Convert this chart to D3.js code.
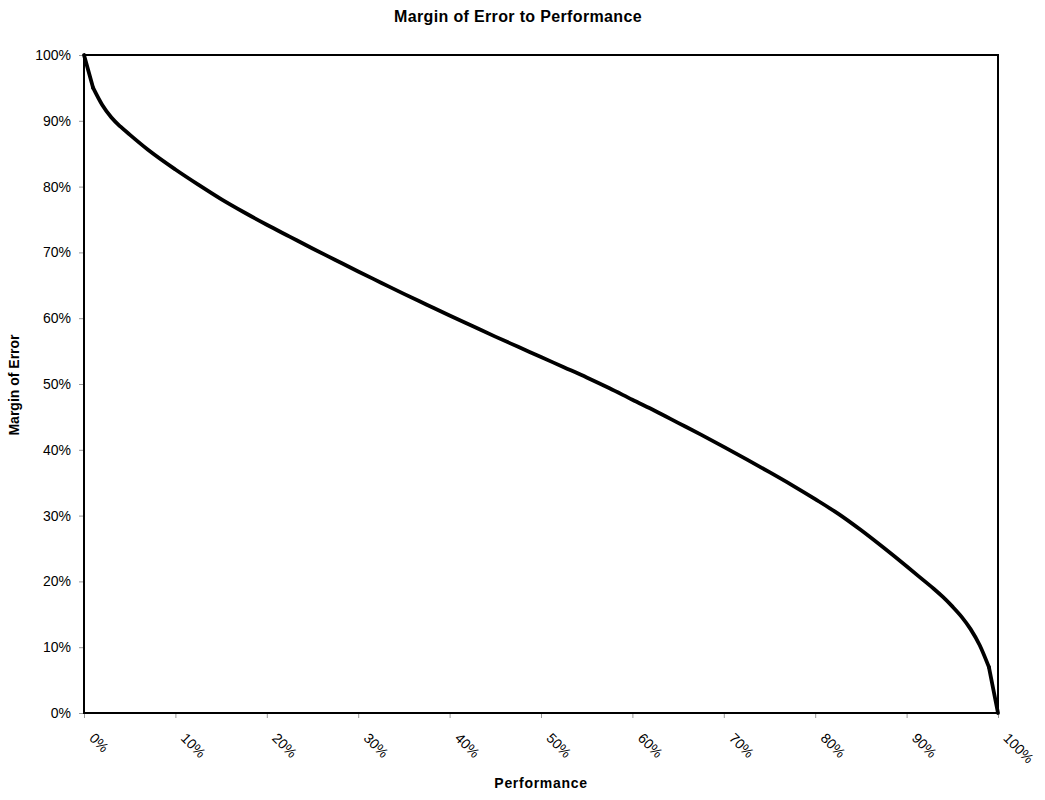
<!DOCTYPE html>
<html>
<head>
<meta charset="utf-8">
<script src="https://cdn.jsdelivr.net/npm/d3@7"></script>
<style>
  html, body { margin: 0; padding: 0; background: #fff; }
  svg { display: block; font-family: "Liberation Sans", Arial, sans-serif; }
</style>
</head>
<body>
<svg id="chart" width="1045" height="800"></svg>
<script>
// Performance (%) and Margin of Error (%)
const performance = [0, 1, 2, 3, 4, 5, 7, 10, 12.5, 15, 17.5, 20, 22.5, 25, 27.5, 30, 32.5, 35, 37.5, 40, 42.5, 45, 47.5, 50, 52.5, 55, 57.5, 60, 62.5, 65, 67.5, 70, 72.5, 75, 77.5, 80, 82.5, 85, 87.5, 90, 92, 93, 94, 95, 96, 97, 98, 99, 100];
const marginOfError = [100, 95.0, 92.4, 90.5, 89.1, 87.9, 85.6, 82.6, 80.3, 78.1, 76.1, 74.2, 72.4, 70.6, 68.85, 67.1, 65.4, 63.7, 62.05, 60.4, 58.8, 57.2, 55.65, 54.1, 52.55, 51.0, 49.35, 47.6, 45.9, 44.1, 42.3, 40.45, 38.55, 36.6, 34.6, 32.5, 30.3, 27.8, 25.1, 22.3, 20.0, 18.85, 17.6, 16.2, 14.65, 12.75, 10.3, 7.0, 0];
const xTicks = [0, 10, 20, 30, 40, 50, 60, 70, 80, 90, 100];
const yTicks = [0, 10, 20, 30, 40, 50, 60, 70, 80, 90, 100];
const titleText = "Margin of Error to Performance";
const xTitle = "Performance";
const yTitle = "Margin of Error";

const svg = d3.select("#chart");
const L = 84, R = 998, T = 55, B = 713;

const x = d3.scaleLinear().domain([0, 100]).range([L, R]);
const y = d3.scaleLinear().domain([0, 100]).range([B, T]);
const fmt = d => d + "%";

// Y axis
const yAxis = svg.append("g").attr("transform", `translate(${L},0)`)
  .call(d3.axisLeft(y).tickValues(yTicks).tickFormat(fmt).tickSize(5).tickPadding(8));
yAxis.select(".domain").remove();
yAxis.selectAll(".tick line").attr("stroke", "#999");
yAxis.selectAll(".tick text").attr("font-size", 14).attr("fill", "#000")
  .attr("font-family", "Liberation Sans, Arial, sans-serif");

// X axis
const xAxis = svg.append("g").attr("transform", `translate(0,${B})`)
  .call(d3.axisBottom(x).tickValues(xTicks).tickFormat(fmt).tickSize(5));
xAxis.select(".domain").remove();
xAxis.selectAll(".tick line").attr("stroke", "#999");
xAxis.selectAll(".tick text")
  .attr("font-size", 14).attr("fill", "#000")
  .attr("font-family", "Liberation Sans, Arial, sans-serif")
  .attr("text-anchor", "start")
  .attr("y", 0).attr("dy", 0)
  .attr("transform", "translate(4,26) rotate(45)");

// Plot frame
svg.append("rect")
  .attr("x", L).attr("y", T).attr("width", R - L).attr("height", B - T)
  .attr("fill", "none").attr("stroke", "#000").attr("stroke-width", 2);

// Line: straight end segments, smooth interior
const data = performance.map((p, i) => ({ p, m: marginOfError[i] }));
const n = data.length;
const lineSmooth = d3.line().x(d => x(d.p)).y(d => y(d.m)).curve(d3.curveMonotoneX);
const lineStraight = d3.line().x(d => x(d.p)).y(d => y(d.m)).curve(d3.curveLinear);
const g = svg.append("g")
  .attr("fill", "none").attr("stroke", "#000").attr("stroke-width", 3.8)
  .attr("stroke-linejoin", "round").attr("stroke-linecap", "round");
g.append("path").datum(data.slice(1, n - 1)).attr("d", lineSmooth);
g.append("path").datum(data.slice(0, 2)).attr("d", lineStraight);
g.append("path").datum(data.slice(n - 2)).attr("d", lineStraight);

// Titles
svg.append("text").attr("x", 518).attr("y", 22)
  .attr("text-anchor", "middle").attr("font-size", 16).attr("font-weight", "bold")
  .attr("letter-spacing", 0.35)
  .text(titleText);
svg.append("text").attr("x", 541).attr("y", 788)
  .attr("text-anchor", "middle").attr("font-size", 14).attr("font-weight", "bold")
  .attr("letter-spacing", 0.7)
  .text(xTitle);
svg.append("text").attr("transform", "translate(19,385) rotate(-90)")
  .attr("text-anchor", "middle").attr("font-size", 14).attr("font-weight", "bold")
  .text(yTitle);
</script>
</body>
</html>
